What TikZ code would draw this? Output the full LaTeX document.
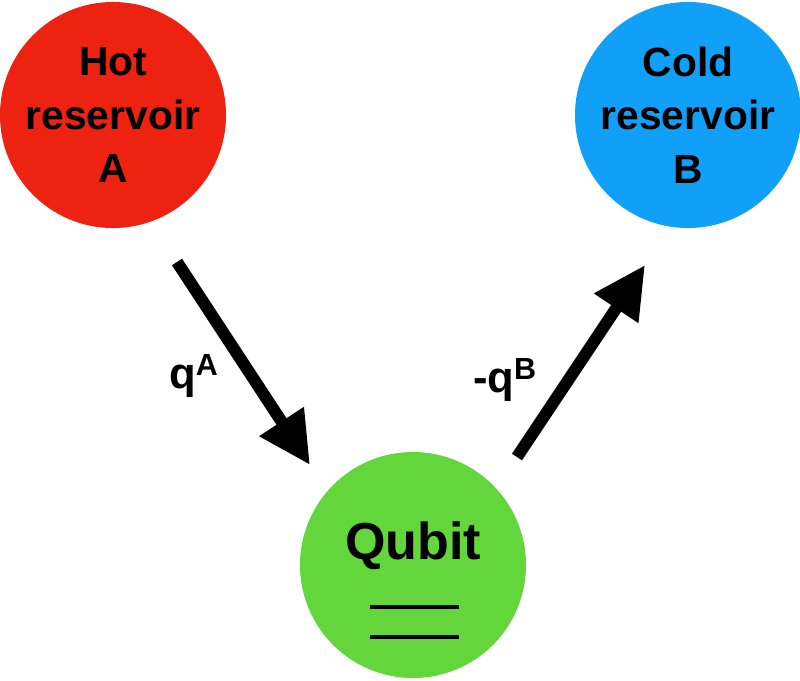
\documentclass[tikz,border=0pt]{standalone}
\usepackage{fontspec}
\setmainfont{Liberation Sans}
\usetikzlibrary{arrows.meta}
\definecolor{hot}{HTML}{EE2211}
\definecolor{cold}{HTML}{11A0F8}
\definecolor{qub}{HTML}{62D63A}
\begin{document}
\begin{tikzpicture}[x=0.025cm,y=-0.025cm,
  res/.style={circle,minimum size=5.65cm,inner sep=0pt,align=center,font=\fontsize{29}{38}\selectfont\bfseries},
  flow/.style={line width=0.3cm,-{Triangle[length=1.3cm,width=1.25cm]}},
  lbl/.style={font=\fontsize{31}{36}\selectfont\bfseries}]
\useasboundingbox (0,0) rectangle (800,680);
\node[res,fill=hot] (hot) at (113,115) {Hot\\reservoir\\A};
\node[res,fill=cold] (cold) at (688,115) {Cold\\reservoir\\B};
\node[res,fill=qub] (qubit) at (413,565) {};
\node[font=\fontsize{37}{42}\selectfont\bfseries] (qt) at (413,546) {Qubit};
\coordinate (l1a) at (370,607); \coordinate (l1b) at (459,607);
\coordinate (l2a) at (370,637); \coordinate (l2b) at (459,637);
\draw[line width=0.1cm] (l1a) -- (l1b);
\draw[line width=0.1cm] (l2a) -- (l2b);
\coordinate (a1s) at (177,262); \coordinate (a1e) at (310,465);
\coordinate (a2s) at (517,457); \coordinate (a2e) at (645,265);
\draw[flow] (a1s) -- (a1e);
\draw[flow] (a2s) -- (a2e);
\node[lbl] (qa) at (194,376) {q\textsuperscript{A}};
\node[lbl] (qb) at (505,380) {-q\textsuperscript{B}};
\end{tikzpicture}
\end{document}
